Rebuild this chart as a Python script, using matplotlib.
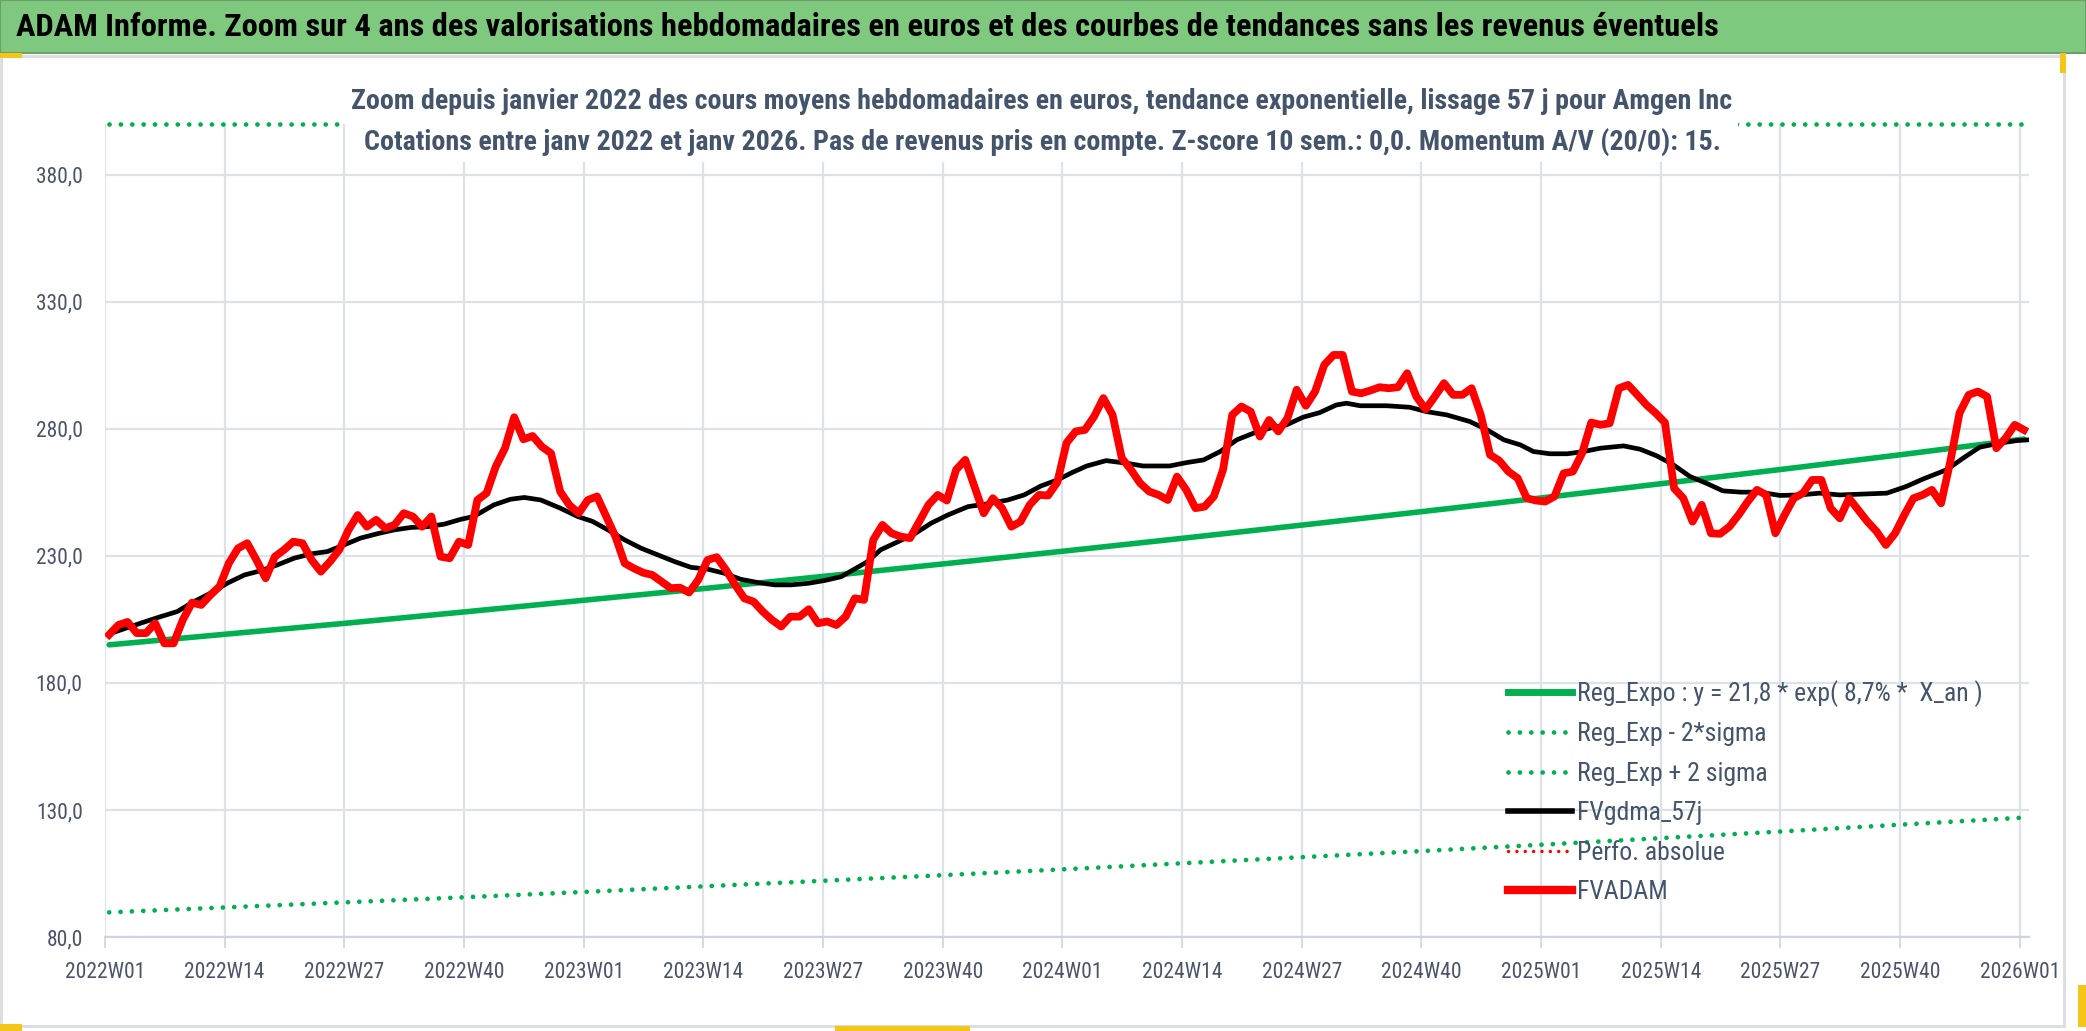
import numpy as np
import matplotlib
matplotlib.use('Agg')
import matplotlib.pyplot as plt
from matplotlib import font_manager
from matplotlib.patches import Rectangle
from matplotlib.lines import Line2D

# ---- data ----
TICK_LABELS = ['2022W01', '2022W14', '2022W27', '2022W40',
               '2023W01', '2023W14', '2023W27', '2023W40',
               '2024W01', '2024W14', '2024W27', '2024W40',
               '2025W01', '2025W14', '2025W27', '2025W40', '2026W01']
TICK_WEEKS = [0, 13, 26, 39, 52, 65, 78, 91, 104, 117, 130, 143, 156, 169, 182, 195, 208]

# weekly average price, euros (FVADAM)
FVADAM = [
    199.0, 202.8, 204.0, 199.6, 199.6, 203.5, 195.6, 195.6, 204.8, 211.6,
    210.7, 214.6, 218.0, 227.1, 233.0, 235.0, 228.4, 221.2, 229.7, 232.4,
    235.6, 235.0, 228.4, 223.8, 227.8, 232.4, 240.2, 246.1, 241.5, 244.2,
    240.9, 242.2, 246.8, 245.5, 241.5, 245.5, 229.7, 229.1, 235.6, 234.3,
    252.0, 254.7, 265.2, 272.4, 284.6, 275.9, 277.2, 273.0, 270.4, 255.3,
    250.0, 246.8, 252.0, 253.4, 245.5, 237.6, 227.1, 225.1, 223.4, 222.5,
    219.9, 217.3, 217.5, 215.6, 220.6, 228.4, 229.5, 224.5, 218.6, 213.3,
    212.0, 208.1, 204.8, 202.2, 206.1, 206.1, 209.0, 203.5, 204.2, 202.8,
    206.1, 213.3, 212.7, 236.3, 242.2, 238.9, 237.6, 237.0, 243.5, 250.1,
    254.0, 251.8, 263.9, 267.8, 257.3, 246.8, 252.7, 248.8, 241.5, 243.5,
    250.1, 254.0, 253.8, 259.0, 274.5, 279.0, 279.6, 284.9, 292.1, 285.5,
    268.5, 263.9, 258.6, 255.3, 254.0, 252.0, 261.2, 256.0, 248.8, 249.4,
    253.4, 263.9, 285.5, 288.8, 286.8, 277.0, 283.5, 279.0, 284.2, 295.4,
    289.1, 294.7, 305.2, 309.1, 309.1, 294.7, 294.0, 295.1, 296.4, 296.0,
    296.4, 301.9, 292.7, 287.7, 292.7, 298.0, 293.4, 293.4, 296.0, 285.5,
    269.8, 267.5, 263.2, 260.6, 252.7, 251.8, 251.4, 253.4, 262.5, 263.2,
    270.4, 282.5, 281.6, 282.2, 296.0, 297.3, 293.4, 289.4, 286.2, 282.5,
    256.6, 252.7, 243.5, 250.1, 238.9, 238.7, 241.5, 246.1, 251.4, 256.0,
    254.0, 238.9, 246.1, 252.7, 254.7, 259.9, 259.9, 248.8, 244.8, 252.7,
    248.1, 243.5, 239.6, 234.3, 238.9, 246.1, 252.7, 254.0, 256.0, 250.7,
    267.1, 286.2, 293.4, 294.7, 292.7, 272.4, 276.3, 281.6, 279.6,
]

# 57-day smoothed curve (FVgdma_57j), sampled along the weeks
GDMA_WEEKS = [0, 3.4, 5.6, 7.4, 9.2, 11.0, 12.8, 14.7, 16.5, 18.3, 20.1, 21.9,
              23.7, 25.5, 27.3, 29.1, 30.9, 32.8, 34.6, 36.4, 38.2, 39.6, 41.8,
              43.6, 45.1, 46.9, 49.0, 50.9, 52.5, 54.2, 56.0, 57.8, 59.6, 61.4,
              63.2, 65.0, 66.8, 68.6, 70.5, 72.3, 74.1, 75.9, 77.7, 79.5, 81.3,
              82.4, 83.8, 85.7, 87.5, 89.3, 91.1, 93.3, 95.4, 97.6, 99.4, 101.2,
              103.0, 104.6, 106.2, 108.3, 110.5, 112.3, 115.2, 117.0, 118.9,
              120.7, 122.5, 124.3, 126.1, 127.9, 129.7, 131.5, 133.3, 134.4,
              135.9, 138.8, 141.3, 143.1, 145.3, 147.8, 149.7, 151.5, 153.3,
              154.7, 156.5, 158.4, 160.2, 162.0, 164.5, 166.3, 168.1, 169.9,
              171.7, 173.5, 175.3, 177.2, 179.3, 181.5, 183.7, 185.8, 188.0,
              190.9, 193.1, 195.2, 197.0, 199.6, 201.4, 203.2, 205.4, 207.2, 208.6]
GDMA = [199.3, 203.5, 206.1, 208.1, 212.0, 215.3, 219.2, 222.5, 224.2, 226.5,
        229.1, 230.8, 231.7, 234.3, 237.0, 238.7, 240.2, 241.2, 241.5, 242.5,
        244.4, 245.5, 250.1, 252.3, 253.0, 252.0, 248.8, 245.5, 243.6, 240.2,
        236.3, 233.0, 230.4, 227.8, 225.5, 224.8, 223.2, 220.8, 219.5, 218.6,
        218.6, 219.2, 220.3, 221.8, 225.5, 227.8, 232.4, 235.6, 238.7, 242.9,
        246.1, 249.4, 250.5, 252.0, 254.0, 257.5, 259.9, 262.8, 265.4, 267.5,
        266.5, 265.4, 265.4, 266.7, 267.8, 271.1, 275.7, 278.3, 280.3, 281.6,
        284.6, 286.4, 289.4, 290.1, 289.1, 289.1, 288.5, 286.8, 285.5, 282.9,
        279.6, 275.7, 273.7, 271.1, 270.2, 270.2, 271.1, 272.4, 273.3, 272.0,
        269.4, 265.9, 261.3, 258.6, 255.6, 255.1, 255.1, 253.8, 254.0, 254.7,
        254.0, 254.4, 254.7, 257.3, 260.2, 263.9, 268.5, 272.8, 274.4, 275.4,
        275.7]

# exponential regression and its 2-sigma band, read at each labelled week
REG_EXPO = [195.0, 199.3, 203.6, 208.1, 212.7, 217.3, 222.1, 227.0, 232.0,
            237.1, 242.3, 247.6, 253.0, 258.6, 264.2, 270.0, 276.0]
REG_LOW = [89.7, 91.7, 93.7, 95.7, 97.8, 100.0, 102.2, 104.4, 106.7,
           109.1, 111.5, 113.9, 116.4, 119.0, 121.6, 124.3, 127.0]
REG_HIGH = [423.0, 432.0, 442.0, 451.0, 461.0, 472.0, 482.0, 493.0, 503.0,
            515.0, 526.0, 537.0, 549.0, 561.0, 573.0, 586.0, 599.0]

YMIN, YMAX = 80, 400
YTICKS = [80, 130, 180, 230, 280, 330, 380]

TITLE = ("ADAM Informe. Zoom sur 4 ans des valorisations hebdomadaires en euros "
         "et des courbes de tendances sans les revenus éventuels")
SUB1 = ("Zoom depuis janvier 2022 des cours moyens hebdomadaires en euros, "
        "tendance exponentielle, lissage 57 j pour Amgen Inc")
SUB2 = ("Cotations entre janv 2022 et janv 2026. Pas de revenus pris en compte. "
        "Z-score 10 sem.: 0,0. Momentum A/V (20/0): 15.")

# ---- fonts ----
names = {f.name for f in font_manager.fontManager.ttflist}
NARROW = next((n for n in ['Liberation Sans Narrow', 'Roboto Condensed',
                           'Open Sans Condensed', 'DejaVu Sans Condensed']
               if n in names), 'Roboto')
plt.rcParams['font.family'] = [NARROW, 'DejaVu Sans']

W, H = 2086, 1031
fig = plt.figure(figsize=(W / 100, H / 100), dpi=100)

def fx(px):
    return px / W

def fy(py):
    return 1 - py / H

# header band
fig.patches.append(Rectangle((0, fy(53)), 1, 53 / H, transform=fig.transFigure,
                             facecolor='#7FC97F', edgecolor='#6E9E6E', lw=1.5))
fig.text(fx(16), fy(27), TITLE, fontsize=23.4, fontweight='bold', color='black',
         ha='left', va='center')
# chart area frame
fig.patches.append(Rectangle((fx(1), fy(1026)), fx(2063), (1026 - 56) / H,
                             transform=fig.transFigure, facecolor='none',
                             edgecolor='#DADCE0', lw=2))
# selection handles (yellow)
for (x0, y0, w, h) in [(0, 53, 22, 5), (2060, 53, 6, 20), (0, 1024, 22, 7),
                       (2078, 985, 8, 42), (835, 1026, 135, 5)]:
    fig.patches.append(Rectangle((fx(x0), fy(y0 + h)), w / W, h / H,
                                 transform=fig.transFigure,
                                 facecolor='#F5C518', edgecolor='none'))

ax = fig.add_axes([fx(105), fy(937), fx(2029) - fx(105), (937 - 124) / H])

x_weekly = np.arange(len(FVADAM)) + 0.45
tick_x = np.array(TICK_WEEKS) + 0.45

ax.plot(tick_x, REG_EXPO, color='#00B050', lw=4, solid_capstyle='round', zorder=3)
dots = dict(color='#00B050', lw=3.4, linestyle=(0, (0.01, 2.4)),
            dash_capstyle='round', zorder=3)
ax.plot(tick_x, REG_LOW, **dots)
ax.plot(tick_x, np.minimum(REG_HIGH, YMAX), clip_on=False, **dots)
ax.plot(np.array(GDMA_WEEKS) + 0.45, GDMA, color='black', lw=3.4, zorder=4)
ax.plot(x_weekly, FVADAM, color='#FF0000', lw=5.6, solid_joinstyle='round', zorder=5)

ax.set_xlim(0, 209)
ax.set_ylim(YMIN, YMAX)
ax.set_xticks(TICK_WEEKS)
ax.set_xticklabels(TICK_LABELS)
ax.set_yticks(YTICKS)
ax.set_yticklabels([f'{v:.1f}'.replace('.', ',') for v in YTICKS])
ax.grid(True, color='#DDE1E8', lw=1.6)
ax.set_axisbelow(True)
for s in ['top', 'right', 'left']:
    ax.spines[s].set_visible(False)
ax.spines['bottom'].set_color('#D0D4DC')
ax.spines['bottom'].set_linewidth(1.6)
ax.tick_params(axis='both', colors='#4A5468', labelsize=15.5, length=0, pad=12)
ax.tick_params(axis='x', length=8, color='#D0D4DC', width=1.2, pad=10)
ax.tick_params(axis='y', pad=16)
ax.set_facecolor('white')

# subtitle in one white box: it hides the clipped upper band, as in the original
fig.text(fx(1042), fy(122), SUB1 + '\n' + SUB2, fontsize=20.2, fontweight='bold',
         color='#44546A', ha='center', va='center', linespacing=1.58,
         multialignment='center', zorder=10,
         bbox=dict(facecolor='white', edgecolor='none', pad=4))

handles = [
    Line2D([], [], color='#00B050', lw=5),
    Line2D([], [], color='#00B050', lw=3.4, linestyle=(0, (0.01, 2.4)), dash_capstyle='round'),
    Line2D([], [], color='#00B050', lw=3.4, linestyle=(0, (0.01, 2.4)), dash_capstyle='round'),
    Line2D([], [], color='black', lw=4),
    Line2D([], [], color='#FF0000', lw=2.5, linestyle=(0, (0.01, 2.4)), dash_capstyle='round'),
    Line2D([], [], color='#FF0000', lw=6),
]
labels = ['Reg_Expo : y = 21,8 * exp( 8,7% *  X_an )', 'Reg_Exp - 2*sigma',
          'Reg_Exp + 2 sigma', 'FVgdma_57j', 'Perfo. absolue', 'FVADAM']
leg = ax.legend(handles, labels, loc='upper left',
                bbox_to_anchor=(fx(1508), fy(680)), bbox_transform=fig.transFigure,
                frameon=False, fontsize=18.5, handlelength=2.5, handletextpad=0.2,
                labelspacing=0.6, borderaxespad=0, borderpad=0)
for t in leg.get_texts():
    t.set_color('#44546A')

fig.savefig('out.png', dpi=100)
